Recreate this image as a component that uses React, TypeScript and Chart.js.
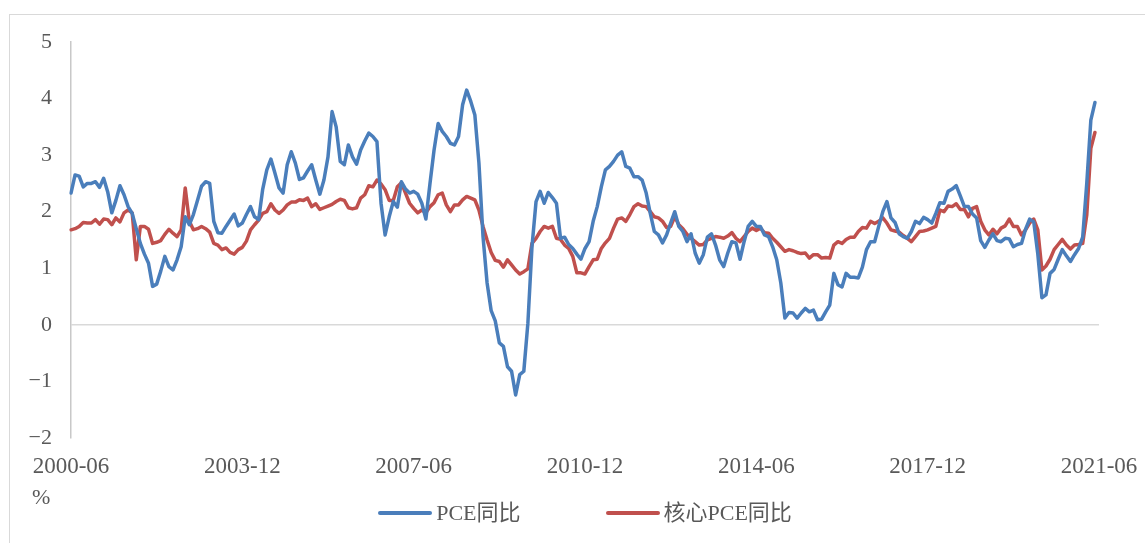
import React, { useEffect, useRef } from "react";
import { Chart, registerables } from "chart.js";

Chart.register(...registerables);

// Monthly categories 2000-06 … 2021-06
const CATEGORIES: string[] = Array.from({ length: 253 }, (_, k) => {
  const m = 5 + k;
  const y = 2000 + Math.floor(m / 12);
  const mm = (m % 12) + 1;
  return `${y}-${String(mm).padStart(2, "0")}`;
});

const TICK_LABELS = ["2000-06", "2003-12", "2007-06", "2010-12", "2014-06", "2017-12", "2021-06"];

const PCE_YOY = [
  2.33, 2.65, 2.63, 2.44, 2.5, 2.5, 2.53, 2.43, 2.59, 2.35,
  1.98, 2.2, 2.46, 2.3, 2.09, 1.97, 1.7, 1.44, 1.25, 1.09,
  0.68, 0.72, 0.95, 1.21, 1.03, 0.97, 1.15, 1.38, 1.91, 1.77,
  1.95, 2.2, 2.45, 2.53, 2.5, 1.83, 1.63, 1.62, 1.74, 1.85,
  1.96, 1.75, 1.8, 1.95, 2.09, 1.91, 1.86, 2.4, 2.74, 2.93,
  2.68, 2.42, 2.33, 2.83, 3.06, 2.86, 2.57, 2.6, 2.72, 2.83,
  2.56, 2.31, 2.56, 2.97, 3.77, 3.5, 2.89, 2.83, 3.18, 2.97,
  2.84, 3.09, 3.25, 3.39, 3.33, 3.24, 2.15, 1.59, 1.91, 2.18,
  2.08, 2.53, 2.4, 2.33, 2.36, 2.31, 2.15, 1.87, 2.5, 3.09,
  3.56, 3.42, 3.33, 3.21, 3.18, 3.33, 3.89, 4.15, 3.95, 3.71,
  2.86, 1.56, 0.74, 0.25, 0.07, -0.32, -0.38, -0.74, -0.82, -1.24,
  -0.88, -0.82, 0.03, 1.38, 2.18, 2.36, 2.15, 2.34, 2.25, 2.15,
  1.53, 1.55, 1.42, 1.35, 1.25, 1.16, 1.35, 1.47, 1.83, 2.09,
  2.44, 2.74, 2.8, 2.89, 3.0, 3.06, 2.8, 2.77, 2.62, 2.62,
  2.56, 2.33, 1.97, 1.65, 1.59, 1.45, 1.59, 1.8, 2.0, 1.74,
  1.65, 1.47, 1.61, 1.27, 1.09, 1.24, 1.55, 1.61, 1.41, 1.15,
  1.03, 1.27, 1.47, 1.45, 1.16, 1.47, 1.74, 1.83, 1.74, 1.74,
  1.59, 1.56, 1.38, 1.15, 0.74, 0.12, 0.22, 0.21, 0.12, 0.21,
  0.29, 0.23, 0.26, 0.09, 0.1, 0.23, 0.35, 0.91, 0.71, 0.67,
  0.91, 0.84, 0.84, 0.83, 1.02, 1.33, 1.47, 1.47, 1.74, 2.0,
  2.18, 1.89, 1.81, 1.61, 1.56, 1.53, 1.65, 1.83, 1.79, 1.9,
  1.86, 1.8, 1.97, 2.16, 2.15, 2.36, 2.4, 2.46, 2.28, 2.09,
  2.09, 1.96, 1.89, 1.49, 1.37, 1.5, 1.61, 1.49, 1.47, 1.53,
  1.52, 1.38, 1.42, 1.44, 1.69, 1.87, 1.82, 1.25, 0.48, 0.53,
  0.91, 0.98, 1.16, 1.33, 1.22, 1.12, 1.24, 1.35, 1.55, 2.5,
  3.62, 3.93,
];

const CORE_PCE_YOY = [
  1.68, 1.7, 1.74, 1.81, 1.8, 1.8, 1.86, 1.78, 1.87, 1.86,
  1.77, 1.89, 1.82, 1.98, 2.03, 1.98, 1.15, 1.74, 1.74, 1.69,
  1.44, 1.46, 1.49, 1.6, 1.69, 1.62, 1.56, 1.68, 2.42, 1.83,
  1.68, 1.7, 1.74, 1.7, 1.64, 1.44, 1.41, 1.33, 1.36, 1.28,
  1.25, 1.33, 1.37, 1.48, 1.68, 1.77, 1.85, 1.97, 2.0, 2.14,
  2.03, 1.97, 2.03, 2.12, 2.17, 2.17, 2.21, 2.2, 2.24, 2.09,
  2.14, 2.04, 2.07, 2.1, 2.13, 2.18, 2.22, 2.2, 2.07, 2.05,
  2.07, 2.24, 2.3, 2.46, 2.44, 2.56, 2.49, 2.39, 2.2, 2.2,
  2.44, 2.51, 2.33, 2.15, 2.06, 1.98, 2.03, 1.98, 2.09, 2.16,
  2.3, 2.33, 2.12, 2.0, 2.12, 2.12, 2.21, 2.27, 2.24, 2.21,
  2.03, 1.74, 1.5, 1.28, 1.14, 1.12, 1.02, 1.15, 1.06, 0.97,
  0.9, 0.94, 0.99, 1.44, 1.53, 1.65, 1.74, 1.71, 1.74, 1.53,
  1.51, 1.41, 1.35, 1.21, 0.92, 0.92, 0.9, 1.03, 1.15, 1.16,
  1.35, 1.45, 1.53, 1.71, 1.87, 1.89, 1.83, 1.95, 2.09, 2.14,
  2.1, 2.09, 2.0, 1.91, 1.89, 1.83, 1.72, 1.74, 1.91, 1.77,
  1.7, 1.6, 1.53, 1.47, 1.41, 1.42, 1.5, 1.53, 1.56, 1.55,
  1.53, 1.57, 1.63, 1.53, 1.47, 1.56, 1.65, 1.71, 1.67, 1.71,
  1.63, 1.62, 1.53, 1.46, 1.38, 1.3, 1.33, 1.31, 1.28, 1.26,
  1.27, 1.18, 1.24, 1.24, 1.18, 1.19, 1.18, 1.41, 1.47, 1.44,
  1.51, 1.55, 1.55, 1.65, 1.72, 1.71, 1.83, 1.79, 1.83, 1.89,
  1.8, 1.68, 1.66, 1.64, 1.58, 1.53, 1.47, 1.56, 1.65, 1.66,
  1.68, 1.71, 1.74, 2.03, 2.0, 2.1, 2.09, 2.14, 2.04, 2.04,
  1.91, 2.06, 2.09, 1.83, 1.68, 1.59, 1.69, 1.61, 1.71, 1.75,
  1.87, 1.74, 1.74, 1.59, 1.68, 1.8, 1.87, 1.68, 0.97, 1.04,
  1.16, 1.33, 1.42, 1.51, 1.41, 1.34, 1.41, 1.42, 1.44, 1.94,
  3.12, 3.4,
];

const SERIES_NAMES = ["PCE同比", "核心PCE同比"];
const BLUE = "#4a7ebb";
const RED = "#c0504d";
const TEXT = "#595959";
const FONT = "'Liberation Serif', 'DejaVu Serif', 'Noto Sans CJK SC', serif";

export default function App() {
  const ref = useRef<HTMLCanvasElement | null>(null);

  useEffect(() => {
    if (!ref.current) return;
    const chart = new Chart(ref.current, {
      type: "line",
      data: {
        labels: CATEGORIES,
        datasets: [
          {
            label: SERIES_NAMES[0],
            data: PCE_YOY,
            borderColor: BLUE,
            backgroundColor: BLUE,
            borderWidth: 3.5,
            pointRadius: 0,
            tension: 0,
            borderJoinStyle: "round",
            borderCapStyle: "round",
          },
          {
            label: SERIES_NAMES[1],
            data: CORE_PCE_YOY,
            borderColor: RED,
            backgroundColor: RED,
            borderWidth: 3.5,
            pointRadius: 0,
            tension: 0,
            borderJoinStyle: "round",
            borderCapStyle: "round",
          },
        ],
      },
      options: {
        animation: false,
        responsive: false,
        maintainAspectRatio: false,
        layout: { padding: { left: 0, top: 42, right: 46, bottom: 0 } },
        plugins: { legend: { display: false }, tooltip: { enabled: false } },
        scales: {
          x: {
            type: "category",
            offset: false,
            grid: { display: false, drawTicks: false },
            border: { display: false },
            ticks: {
              autoSkip: false,
              maxRotation: 0,
              minRotation: 0,
              padding: 15,
              color: TEXT,
              font: { family: FONT, size: 23 },
              callback: function (this: any, value: any) {
                const lbl = this.getLabelForValue(value);
                return TICK_LABELS.includes(lbl) ? lbl : "";
              },
            },
            afterFit: (scale: any) => {
              scale.height = 105;
              scale.paddingLeft = 0;
              scale.paddingRight = 0;
            },
          },
          y: {
            min: -2,
            max: 5,
            ticks: {
              stepSize: 1,
              padding: 19,
              color: TEXT,
              font: { family: FONT, size: 22 },
              callback: (v: any) => (Number(v) < 0 ? "\u2212" + Math.abs(Number(v)) : String(v)),
            },
            grid: {
              drawTicks: false,
              lineWidth: 1.5,
              color: (ctx: any) => (ctx.tick && ctx.tick.value === 0 ? "#d9d9d9" : "rgba(0,0,0,0)"),
            },
            border: { display: true, color: "#c8c8c8", width: 1.5 },
            afterFit: (scale: any) => {
              scale.width = 71;
            },
          },
        },
      },
    });
    return () => chart.destroy();
  }, []);

  const legendText: React.CSSProperties = {
    fontFamily: FONT,
    fontSize: 22,
    color: TEXT,
    lineHeight: "26px",
    whiteSpace: "nowrap",
  };

  return (
    <div>
      <div
        style={{
          position: "absolute",
          left: 9,
          top: 14,
          right: 0,
          bottom: 0,
          borderTop: "1px solid #d9d9d9",
          borderLeft: "1px solid #d9d9d9",
        }}
      />
      <canvas
        ref={ref}
        width={1145}
        height={543}
        style={{ position: "absolute", left: 0, top: 0, width: 1145, height: 543 }}
      />
      <div style={{ position: "absolute", left: 32, top: 484, ...legendText }}>%</div>
      <div
        style={{
          position: "absolute",
          left: 71,
          width: 1028,
          top: 500,
          display: "flex",
          justifyContent: "center",
          alignItems: "center",
          gap: 85,
        }}
      >
        {SERIES_NAMES.map((name, i) => (
          <div key={name} style={{ display: "flex", alignItems: "center", gap: 4 }}>
            <div
              style={{
                width: 54,
                height: 4,
                borderRadius: 2,
                background: i === 0 ? BLUE : RED,
              }}
            />
            <span style={legendText}>{name}</span>
          </div>
        ))}
      </div>
    </div>
  );
}
